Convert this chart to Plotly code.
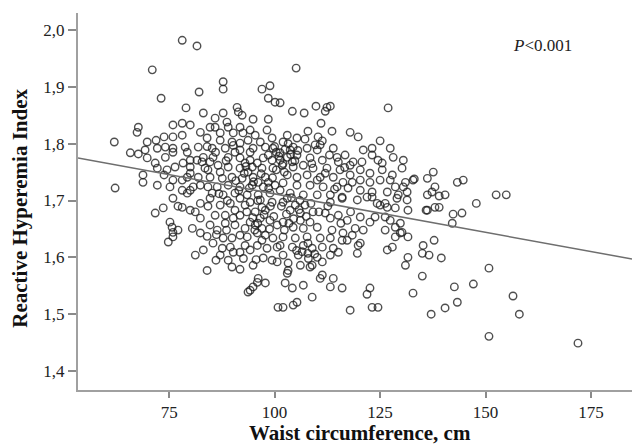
import plotly.graph_objects as go

# (waist circumference in cm, reactive hyperemia index) per subject, grouped by region of the cloud
low_waist = [
    (78.1, 1.982), (81.6, 1.972), (71.0, 1.930), (73.1, 1.880), (82.1, 1.891), (79.0, 1.863),
    (83.1, 1.854), (85.9, 1.845), (67.7, 1.829), (67.4, 1.820), (62.0, 1.803), (75.9, 1.833),
    (78.1, 1.836), (80.0, 1.833), (73.8, 1.812), (75.9, 1.812), (78.1, 1.815), (69.8, 1.803),
    (71.9, 1.806), (72.2, 1.792), (74.1, 1.794), (75.9, 1.792), (78.8, 1.794), (65.8, 1.784),
    (67.7, 1.782), (69.8, 1.775), (71.7, 1.766), (72.2, 1.757), (74.1, 1.776), (75.9, 1.785),
    (74.5, 1.754), (76.4, 1.759), (78.3, 1.766), (80.0, 1.759), (81.6, 1.771), (83.1, 1.776),
    (62.2, 1.722), (68.8, 1.745), (68.8, 1.732), (73.8, 1.745), (75.9, 1.736), (78.1, 1.736),
    (80.0, 1.748), (81.9, 1.741), (84.2, 1.754), (82.4, 1.727), (84.2, 1.724), (80.0, 1.718),
    (78.1, 1.718), (75.9, 1.704), (78.1, 1.688), (80.0, 1.683), (82.4, 1.695), (84.7, 1.704),
    (71.7, 1.678), (73.6, 1.687), (77.1, 1.690), (81.2, 1.680), (75.2, 1.662), (75.7, 1.653),
    (75.9, 1.644), (77.1, 1.648), (74.8, 1.627), (75.9, 1.636), (80.5, 1.651), (82.4, 1.643),
    (84.0, 1.637), (81.2, 1.604), (83.1, 1.613), (84.0, 1.577), (86.1, 1.595),
]

mid_waist_upper = [
    (87.8, 1.909), (87.8, 1.896), (97.0, 1.896), (98.9, 1.902), (98.5, 1.880), (100.1, 1.873),
    (87.8, 1.854), (91.1, 1.864), (91.4, 1.856), (88.7, 1.838), (92.3, 1.850), (94.9, 1.843),
    (98.5, 1.843), (84.7, 1.829), (85.9, 1.829), (89.0, 1.829), (91.8, 1.829), (94.2, 1.824),
    (82.4, 1.820), (87.1, 1.819), (90.2, 1.819), (92.5, 1.819), (95.4, 1.815), (98.2, 1.824),
    (99.4, 1.810), (84.0, 1.810), (87.1, 1.806), (89.9, 1.803), (91.8, 1.801), (93.7, 1.806),
    (96.6, 1.803), (81.9, 1.794), (85.2, 1.792), (88.3, 1.792), (91.8, 1.789), (94.9, 1.792),
    (97.8, 1.794), (99.6, 1.792), (79.3, 1.785), (80.0, 1.771), (85.4, 1.776), (89.0, 1.776),
    (91.8, 1.775), (94.2, 1.771), (97.3, 1.775), (99.4, 1.771), (83.5, 1.757), (86.6, 1.762),
    (89.0, 1.759), (91.8, 1.757), (94.7, 1.759), (97.0, 1.757), (99.6, 1.757), (79.3, 1.741),
    (84.7, 1.741), (87.6, 1.739), (89.9, 1.741), (92.3, 1.739), (94.9, 1.741), (97.8, 1.741),
    (72.2, 1.727), (75.2, 1.724), (80.7, 1.724), (86.4, 1.724), (89.0, 1.727), (91.8, 1.724),
    (94.7, 1.727), (97.3, 1.724), (100.1, 1.727), (79.3, 1.713), (85.2, 1.713), (87.8, 1.710),
    (90.6, 1.713), (93.5, 1.710), (96.1, 1.710), (98.9, 1.713), (69.3, 1.789),
]

high_waist_upper = [
    (105.1, 1.933), (101.3, 1.872), (104.2, 1.857), (107.0, 1.854), (109.8, 1.866), (112.4, 1.864),
    (113.2, 1.866), (112.0, 1.857), (126.9, 1.863), (111.0, 1.836), (107.9, 1.822), (113.6, 1.822),
    (117.9, 1.820), (119.8, 1.812), (125.0, 1.805), (127.4, 1.792), (103.0, 1.815), (105.3, 1.810),
    (107.2, 1.808), (110.3, 1.812), (111.3, 1.805), (102.0, 1.803), (104.4, 1.794), (107.7, 1.792),
    (110.1, 1.789), (113.9, 1.792), (116.7, 1.780), (121.0, 1.789), (123.1, 1.792), (123.1, 1.780),
    (124.5, 1.771), (128.1, 1.776), (130.5, 1.771), (101.3, 1.784), (103.0, 1.776), (105.3, 1.780),
    (108.4, 1.775), (111.3, 1.771), (114.8, 1.776), (115.1, 1.768), (118.6, 1.768), (120.7, 1.768),
    (101.8, 1.762), (104.4, 1.759), (106.8, 1.762), (109.1, 1.757), (112.4, 1.757), (115.5, 1.754),
    (117.9, 1.762), (120.3, 1.754), (122.6, 1.748), (125.5, 1.754), (127.9, 1.745), (130.2, 1.757),
    (132.8, 1.736), (103.0, 1.745), (105.3, 1.741), (107.7, 1.745), (110.8, 1.741), (113.9, 1.741),
    (117.9, 1.745), (118.4, 1.732), (120.3, 1.736), (122.6, 1.732), (125.0, 1.736), (127.4, 1.736),
    (128.6, 1.724), (130.5, 1.724), (102.0, 1.731), (105.3, 1.727), (108.4, 1.727), (111.5, 1.724),
    (114.8, 1.724), (117.4, 1.722), (120.3, 1.718), (123.1, 1.715), (126.7, 1.715), (129.3, 1.710),
    (103.7, 1.713), (106.8, 1.710), (110.1, 1.710), (113.2, 1.710), (116.0, 1.706), (109.6, 1.798),
    (103.7, 1.789), (110.1, 1.736), (116.2, 1.732), (125.5, 1.766), (131.4, 1.715), (131.6, 1.683),
    (129.0, 1.704), (126.2, 1.695), (119.6, 1.701), (121.9, 1.706),
]

mid_waist_lower = [
    (87.1, 1.692), (89.5, 1.695), (91.8, 1.704), (94.2, 1.697), (96.6, 1.701), (99.4, 1.697),
    (86.4, 1.648), (88.3, 1.660), (90.2, 1.669), (91.8, 1.674), (94.2, 1.662), (96.6, 1.669),
    (98.9, 1.665), (100.6, 1.657), (87.8, 1.634), (89.9, 1.634), (91.8, 1.639), (93.5, 1.636),
    (95.9, 1.643), (97.8, 1.639), (99.6, 1.634), (87.6, 1.616), (89.5, 1.618), (91.8, 1.609),
    (94.2, 1.613), (95.9, 1.621), (98.2, 1.616), (100.6, 1.618), (87.1, 1.604), (89.0, 1.595),
    (89.9, 1.583), (91.8, 1.579), (94.9, 1.586), (97.3, 1.599), (99.4, 1.595), (100.6, 1.592),
    (96.1, 1.563), (95.9, 1.556), (97.8, 1.555), (94.9, 1.548), (93.7, 1.539), (100.8, 1.512),
]

high_waist_lower = [
    (103.0, 1.704), (113.2, 1.697), (116.0, 1.704), (123.1, 1.706), (124.3, 1.695), (126.7, 1.688),
    (131.4, 1.701), (128.6, 1.687), (103.7, 1.683), (106.1, 1.678), (109.1, 1.680), (112.0, 1.678),
    (113.2, 1.669), (115.1, 1.674), (117.2, 1.665), (120.3, 1.671), (123.8, 1.671), (122.6, 1.662),
    (127.4, 1.665), (129.8, 1.660), (102.0, 1.662), (104.4, 1.653), (106.8, 1.651), (110.1, 1.653),
    (113.6, 1.648), (116.2, 1.643), (118.4, 1.639), (121.0, 1.648), (119.1, 1.651), (126.2, 1.648),
    (128.6, 1.653), (128.6, 1.636), (131.6, 1.636), (102.0, 1.636), (104.9, 1.634), (107.7, 1.636),
    (110.8, 1.634), (113.2, 1.634), (116.0, 1.630), (119.8, 1.621), (101.3, 1.621), (104.2, 1.618),
    (106.8, 1.621), (108.9, 1.616), (111.3, 1.618), (113.9, 1.616), (126.7, 1.613), (119.6, 1.607),
    (102.0, 1.604), (105.6, 1.604), (107.9, 1.607), (110.1, 1.600), (113.2, 1.604), (131.6, 1.600),
    (131.0, 1.586), (103.2, 1.590), (106.1, 1.586), (108.9, 1.586), (111.3, 1.592), (103.0, 1.572),
    (111.3, 1.569), (113.9, 1.563), (102.5, 1.555), (106.8, 1.551), (113.2, 1.548), (116.0, 1.546),
    (122.6, 1.546), (121.9, 1.535), (132.8, 1.537), (108.9, 1.530), (105.3, 1.521), (104.4, 1.516),
    (102.0, 1.512), (117.9, 1.507), (123.1, 1.512), (124.5, 1.512), (94.2, 1.542), (104.2, 1.546),
    (110.8, 1.563), (103.2, 1.577), (108.4, 1.583), (115.1, 1.609), (120.3, 1.625), (117.2, 1.630),
    (125.0, 1.692), (126.2, 1.671), (127.9, 1.618), (129.8, 1.643), (90.2, 1.609),
]

largest_waist = [
    (147.8, 1.695), (144.4, 1.678), (142.3, 1.676), (142.1, 1.660), (138.0, 1.688), (139.0, 1.688),
    (135.9, 1.683), (130.2, 1.644), (135.2, 1.621), (137.8, 1.630), (135.0, 1.607), (136.6, 1.604),
    (139.5, 1.599), (135.0, 1.567), (137.1, 1.500), (140.4, 1.511), (142.6, 1.548), (143.3, 1.521),
    (147.1, 1.553), (150.8, 1.581), (150.8, 1.461), (156.5, 1.532), (158.0, 1.500), (171.9, 1.449),
    (131.0, 1.732), (133.1, 1.738), (136.2, 1.739), (137.6, 1.750), (136.2, 1.710), (137.3, 1.715),
    (138.0, 1.724), (139.0, 1.708), (140.4, 1.710), (143.3, 1.732), (144.7, 1.736), (152.5, 1.710),
    (154.9, 1.710), (136.2, 1.683),
]

core_extra = [
    (101.3, 1.771), (100.4, 1.785), (104.2, 1.768), (100.4, 1.754), (102.3, 1.750), (101.3, 1.718),
    (104.9, 1.692), (107.2, 1.692), (108.4, 1.662), (106.1, 1.665), (95.4, 1.657), (97.0, 1.651),
    (95.4, 1.680), (97.8, 1.683), (93.7, 1.750), (96.1, 1.732), (98.5, 1.732), (93.0, 1.692),
    (90.6, 1.683), (88.3, 1.674), (85.9, 1.674), (94.2, 1.785), (90.6, 1.785), (93.0, 1.766),
    (95.9, 1.766), (98.5, 1.780), (84.7, 1.768), (87.1, 1.750), (102.3, 1.648), (90.6, 1.657),
    (93.0, 1.651), (82.4, 1.669), (84.7, 1.657), (85.4, 1.625), (93.0, 1.621), (97.0, 1.630),
]

core_dense = [
    (101.0, 1.778), (102.5, 1.790), (103.8, 1.781), (104.8, 1.770), (102.0, 1.765), (100.0, 1.795),
    (105.5, 1.788), (103.2, 1.800), (101.6, 1.690), (102.8, 1.676), (104.5, 1.668), (105.8, 1.684),
    (107.5, 1.672), (103.4, 1.660), (106.0, 1.700), (108.6, 1.695), (102.0, 1.697), (104.0, 1.705),
    (94.8, 1.670), (96.0, 1.660), (97.5, 1.675), (98.8, 1.650), (99.8, 1.672), (95.3, 1.648),
    (97.0, 1.688), (99.0, 1.690), (93.4, 1.680), (90.8, 1.735), (92.8, 1.748), (95.0, 1.733),
    (96.8, 1.747), (98.6, 1.722), (91.5, 1.718), (94.0, 1.722), (99.5, 1.740), (93.2, 1.760),
    (96.0, 1.700), (106.5, 1.610), (107.9, 1.625), (109.5, 1.606), (105.2, 1.612), (108.0, 1.598),
    (88.5, 1.770), (86.0, 1.785), (90.2, 1.797), (84.0, 1.795), (82.8, 1.768), (86.8, 1.712),
    (88.8, 1.700), (84.2, 1.690), (86.2, 1.640), (88.6, 1.648), (92.6, 1.598), (95.6, 1.596),
    (110.5, 1.680), (112.6, 1.690), (115.7, 1.660), (118.0, 1.680), (114.2, 1.720), (112.0, 1.748),
    (116.6, 1.758), (108.8, 1.765), (110.8, 1.798), (113.0, 1.780),
]

# Linear regression of RHI on waist circumference
fit_intercept = 1.847
fit_slope = -0.001353

x_range = [53.4, 184.7]
y_range = [1.3666, 2.030]
x_ticks = [75, 100, 125, 150, 175]
y_ticks = [1.4, 1.5, 1.6, 1.7, 1.8, 1.9, 2.0]

groups = [low_waist, mid_waist_upper, high_waist_upper, mid_waist_lower,
          high_waist_lower, largest_waist, core_extra, core_dense]
waist_cm = [p[0] for g in groups for p in g]
rhi = [p[1] for g in groups for p in g]

fit_x = x_range
fit_y = [fit_intercept + fit_slope * v for v in fit_x]

serif = "Liberation Serif, Times New Roman, serif"
ink = "rgba(30,30,30,0.78)"

fig = go.Figure()
fig.add_trace(go.Scatter(
    x=waist_cm, y=rhi, mode="markers",
    marker=dict(symbol="circle-open", size=7.5, color=ink, line=dict(width=1.4, color=ink)),
    hoverinfo="skip",
))
fig.add_trace(go.Scatter(
    x=fit_x, y=fit_y, mode="lines",
    line=dict(color="#6e6e6e", width=1.5),
    hoverinfo="skip",
))

axis_common = dict(
    showgrid=False, zeroline=False, showline=True, linecolor="#a0a0a0", linewidth=2,
    ticks="outside", tickcolor="#8a8a8a", tickwidth=1.5,
    tickfont=dict(family=serif, size=17, color="#222222"),
)

fig.update_layout(
    width=632, height=448,
    margin=dict(l=78, r=0, t=13, b=58),
    plot_bgcolor="white", paper_bgcolor="white",
    showlegend=False,
    separators=",.",
    font=dict(family=serif, color="#222222"),
    xaxis=dict(range=x_range, tickvals=x_ticks, ticklen=6, **axis_common),
    yaxis=dict(range=y_range, tickvals=y_ticks, tickformat=".1f", ticklen=8, **axis_common),
    annotations=[
        dict(text="<b>Waist circumference, cm</b>", xref="paper", yref="paper",
             x=0.509, y=-0.113, xanchor="center", yanchor="middle", showarrow=False,
             font=dict(family=serif, size=21, color="#111111")),
        dict(text="<b>Reactive Hyperemia Index</b>", xref="paper", yref="paper",
             x=-0.105, y=0.483, xanchor="center", yanchor="middle", showarrow=False,
             textangle=-90, font=dict(family=serif, size=21, color="#111111")),
        dict(text="<i>P</i>&lt;0.001", xref="paper", yref="paper",
             x=0.838, y=0.915, xanchor="center", yanchor="middle", showarrow=False,
             font=dict(family=serif, size=17, color="#222222")),
    ],
)

fig.write_html("out.html")
